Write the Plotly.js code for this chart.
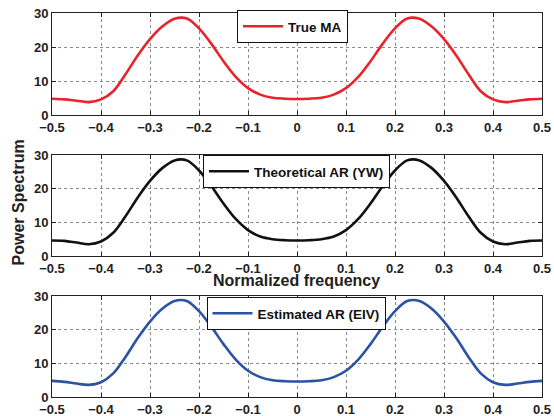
<!DOCTYPE html>
<html><head><meta charset="utf-8">
<script src="https://cdn.plot.ly/plotly-3.0.1.min.js"></script>
<style>html,body{margin:0;padding:0;background:#fff}#chart{width:554px;height:416px}</style>
</head><body><div id="chart"></div>
<script>
const freq = [-0.5,-0.475,-0.45,-0.425,-0.4,-0.375,-0.35,-0.325,-0.3,-0.275,-0.25,-0.225,-0.2,-0.175,-0.15,-0.125,-0.1,-0.075,-0.05,-0.025,0,
  0.025,0.05,0.075,0.1,0.125,0.15,0.175,0.2,0.225,0.25,0.275,0.3,0.325,0.35,0.375,0.4,0.425,0.45,0.475,0.5];
const trueMA = [4.8,4.6,4.2,3.8,4.6,7.0,12.0,17.5,22.3,26.0,28.3,28.4,25.5,21.0,15.8,11.2,7.9,6.0,5.1,4.8,4.7,
  4.8,5.1,6.0,7.9,11.2,15.8,21.0,25.5,28.4,28.3,26.0,22.3,17.5,12.0,7.0,4.6,3.8,4.2,4.6,4.8];
const theoAR = [4.6,4.5,4.0,3.5,4.3,6.9,11.8,17.4,22.3,26.1,28.4,28.4,25.4,20.8,15.6,11.0,7.7,5.8,5.0,4.7,4.6,
  4.7,5.0,5.8,7.7,11.0,15.6,20.8,25.4,28.4,28.4,26.1,22.3,17.4,11.8,6.9,4.3,3.5,4.0,4.5,4.6];
const estAR = [4.8,4.5,4.0,3.6,4.4,7.0,11.9,17.5,22.4,26.2,28.5,28.5,25.5,20.9,15.7,11.1,7.8,5.9,5.0,4.7,4.6,
  4.7,5.0,5.9,7.8,11.1,15.7,20.9,25.5,28.5,28.5,26.2,22.4,17.5,11.9,7.0,4.4,3.6,4.0,4.5,4.8];
const names = ['True MA','Theoretical AR (YW)','Estimated AR (EIV)'];
const colors = ['#e8232b','#111111','#2b52a3'];
const xTickVals = [-0.5,-0.4,-0.3,-0.2,-0.1,0,0.1,0.2,0.3,0.4,0.5];
const xTickText = ['\u22120.5','\u22120.4','\u22120.3','\u22120.2','\u22120.1','0','0.1','0.2','0.3','0.4','0.5'];
const yTickVals = [0,10,20,30];
const series = [trueMA, theoAR, estAR];

const FONT = 'Liberation Sans, Arial, Helvetica, sans-serif';
const traces = series.map((s,i)=>({
  x: freq, y: s, type:'scatter', mode:'lines', name: names[i],
  line:{color: colors[i], width:2.6, shape:'spline', smoothing:1},
  xaxis: i===0?'x':'x'+(i+1), yaxis: i===0?'y':'y'+(i+1),
  legend: i===0?'legend':'legend'+(i+1), showlegend:true
}));

const W=554,H=416;
const xd=[52/W, 542/W];
const ydoms=[[1-115/H,1-13/H],[1-256/H,1-155/H],[1-397/H,1-296/H]];
function xax(anchor){return {domain:xd, range:[-0.5,0.5], anchor:anchor, tickvals:xTickVals, ticktext:xTickText,
  showline:true, mirror:'ticks', linecolor:'#222', linewidth:1, ticks:'inside', ticklen:4, tickcolor:'#222',
  showgrid:true, gridcolor:'#8a8a8a', griddash:'dot', gridwidth:1, zeroline:false,
  tickfont:{family:FONT,size:13,color:'#222',weight:'bold'}};}
function yax(anchor,dom){return {domain:dom, range:[0,30], anchor:anchor, tickvals:yTickVals,
  showline:true, mirror:'ticks', linecolor:'#222', linewidth:1, ticks:'inside', ticklen:4, tickcolor:'#222',
  showgrid:true, gridcolor:'#8a8a8a', griddash:'dot', gridwidth:1, zeroline:false,
  tickfont:{family:FONT,size:13,color:'#222',weight:'bold'}};}
function leg(x,ytop){return {x:x, y:ytop, xanchor:'center', yanchor:'top', bgcolor:'#fff', bordercolor:'#111', borderwidth:1,
  font:{family:FONT,size:13.5,color:'#111',weight:'bold'}, itemwidth:40, tracegroupgap:0};}

const layout = {
  width:W, height:H, margin:{l:0,r:0,t:0,b:0}, paper_bgcolor:'#fff', plot_bgcolor:'#fff',
  showlegend:true,
  xaxis:xax('y'), yaxis:yax('x',ydoms[0]),
  xaxis2:xax('y2'), yaxis2:yax('x2',ydoms[1]),
  xaxis3:xax('y3'), yaxis3:yax('x3',ydoms[2]),
  legend:leg(292.5/W, 1-10/H), legend2:leg(296.5/W, 1-155/H), legend3:leg(296/W, 1-297/H),
  annotations:[
    {text:'Normalized frequency', xref:'paper', yref:'paper', x:296.5/W, y:1-280/H, xanchor:'center', yanchor:'middle',
     showarrow:false, font:{family:FONT,size:16,color:'#222',weight:'bold'}},
    {text:'Power Spectrum', xref:'paper', yref:'paper', x:18/W, y:1-202.5/H, xanchor:'center', yanchor:'middle',
     textangle:-90, showarrow:false, font:{family:FONT,size:16,color:'#222',weight:'bold'}}
  ]
};
Plotly.newPlot('chart', traces, layout, {staticPlot:true, displayModeBar:false});
</script></body></html>
